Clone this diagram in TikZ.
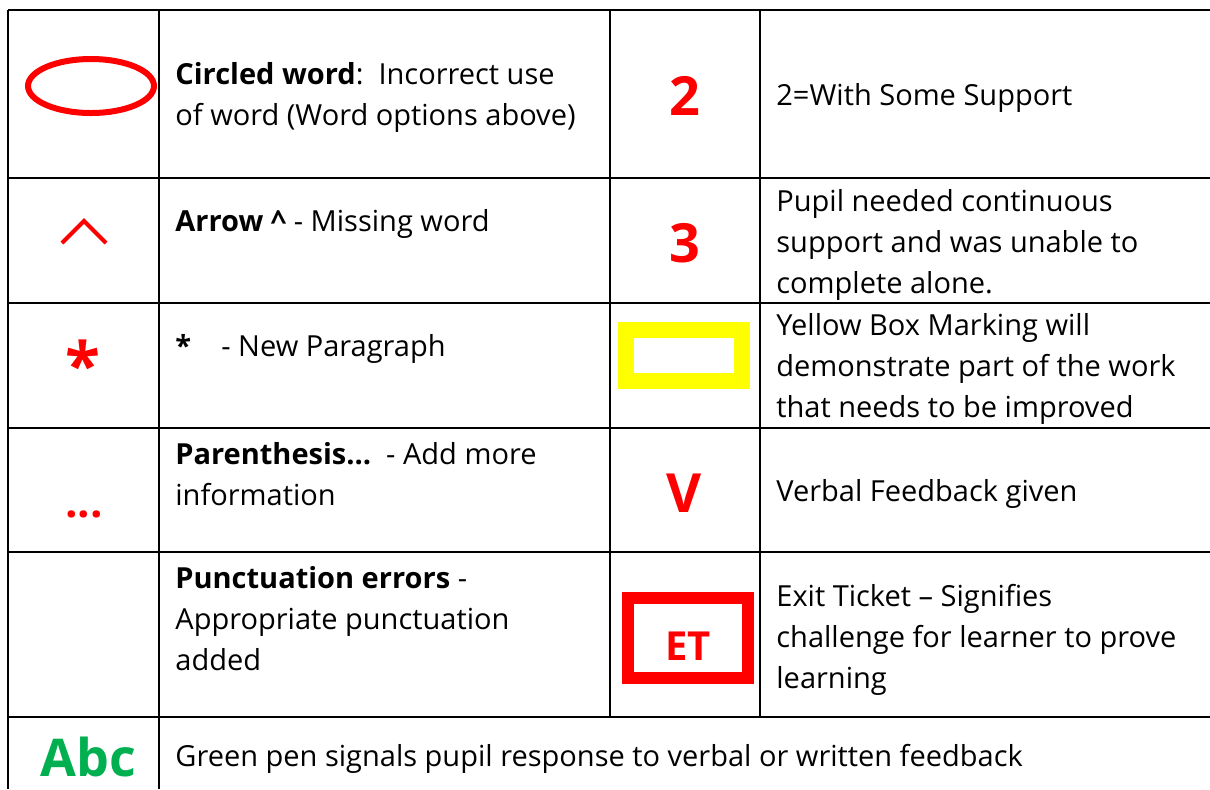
\documentclass[tikz,border=0pt]{standalone}
\usepackage{fontspec}
\setmainfont{Open Sans}
\usetikzlibrary{positioning}
\definecolor{rouge}{RGB}{255,0,0}
\definecolor{jaune}{RGB}{255,255,0}
\definecolor{vertstylo}{RGB}{0,176,80}

\begin{document}
\begin{tikzpicture}[
  x=0.5pt, y=-0.5pt,
  font=\fontsize{14.5}{20.5}\selectfont,
  grille/.style={
    line width=1pt,
    draw=black
  },
  texte/.style={
    anchor=west,
    align=left,
    inner sep=0pt,
    text=black
  },
  signe/.style={
    inner sep=0pt,
    text=rouge,
    font=\fontsize{27}{30}\selectfont\bfseries
  },
  cadre/.style={
    draw=#1,
    inner sep=0pt
  }
]
  \useasboundingbox (0,0) rectangle (1210,789);

  % Grille du tableau
  \foreach \y in {10,178,303,428,552,717}
    \draw[grille] (8,\y) -- (1210,\y);
  \draw[grille] (8,10) -- (8,789);
  \draw[grille] (159,10) -- (159,789);
  \draw[grille] (610,10) -- (610,717);
  \draw[grille] (760,10) -- (760,717);

  % Colonne 1 : signes
  \draw[rouge, line width=3pt] (91,86) ellipse [x radius=63, y radius=27];
  \draw[rouge, line width=2pt] (62,243) -- (84,221) -- (106,243);
  \node[signe, font=\fontsize{32}{36}\selectfont\bfseries] (s3) at (83,364) {*};
  \node[signe, anchor=base, font=\fontsize{22}{26}\selectfont\bfseries] (s4) at (84,517) {...};
  \node[signe, text=vertstylo, font=\fontsize{26}{30}\selectfont\bfseries] (abc) at (88,757) {Abc};

  % Colonne 2 : explications
  \node[texte] (t1) at (175,97) {\textbf{Circled word}:\ \ Incorrect use\\of word (Word options above)};
  \node[texte] (t2) at (175,224) {\textbf{Arrow \^{}} - Missing word};
  \node[texte] (t3) at (175,349) {\textbf{*}\ \ \ \ - New Paragraph};
  \node[texte] (t4) at (175,474) {\textbf{Parenthesis…}\ \ - Add more\\information};
  \node[texte] (t5) at (175,619) {\textbf{Punctuation errors} -\\Appropriate punctuation\\added};
  \node[texte] (t6) at (175,759) {Green pen signals pupil response to verbal or written feedback};

  % Colonne 3 : signes
  \node[signe] (n2) at (685,96) {2};
  \node[signe] (n3) at (685,243) {3};
  \node[cadre=jaune, line width=8pt, minimum width=58pt, minimum height=25.5pt] (jb) at (683.5,355.5) {};
  \node[signe] (v) at (684,493) {V};
  \node[cadre=rouge, line width=6pt, minimum width=59.75pt, minimum height=39.75pt,
        text=rouge, font=\fontsize{20}{24}\selectfont\bfseries] (et) at (688,638) {\raisebox{-11pt}[0pt][0pt]{ET}};

  % Colonne 4 : explications
  \node[texte] (d1) at (776,98) {2=With Some Support};
  \node[texte] (d2) at (776,245) {Pupil needed continuous\\support and was unable to\\complete alone.};
  \node[texte] (d3) at (776,369) {Yellow Box Marking will\\demonstrate part of the work\\that needs to be improved};
  \node[texte] (d4) at (776,494) {Verbal Feedback given};
  \node[texte] (d5) at (776,640) {Exit Ticket – Signifies\\challenge for learner to prove\\learning};
\end{tikzpicture}
\end{document}
